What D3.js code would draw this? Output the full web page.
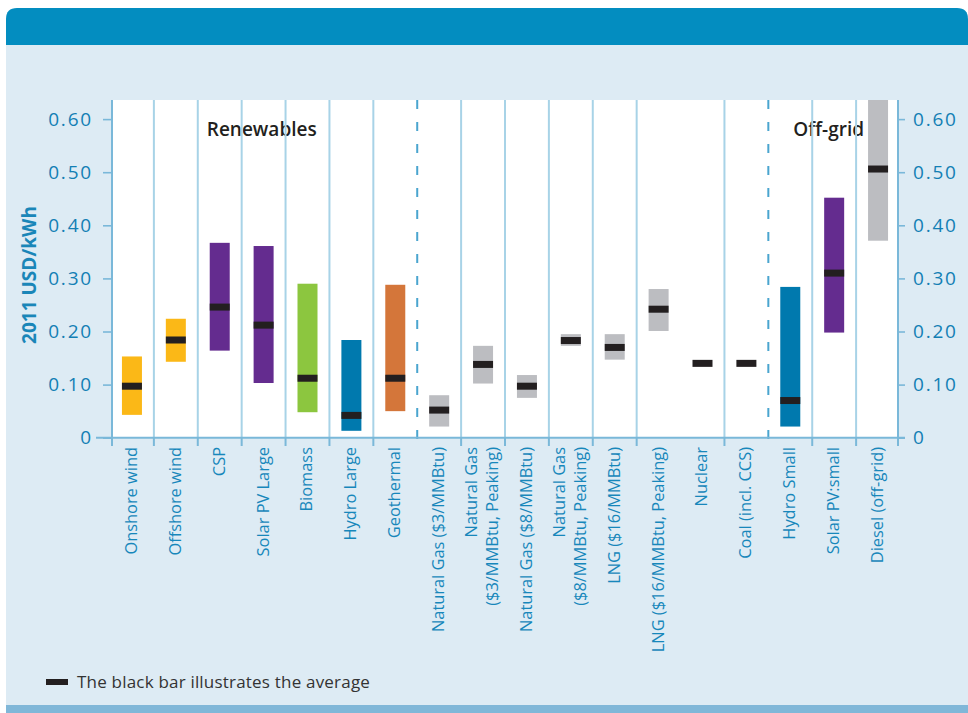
<!DOCTYPE html>
<html>
<head>
<meta charset="utf-8">
<script src="https://cdn.jsdelivr.net/npm/d3@7"></script>
<style>
  html, body { margin: 0; padding: 0; background: #ffffff; }
  svg { display: block; }
</style>
</head>
<body>
<svg id="chart" width="968" height="713"></svg>
<script>
// ---------------- DATA ----------------
const categories = [
  "Onshore wind", "Offshore wind", "CSP", "Solar PV Large", "Biomass", "Hydro Large", "Geothermal",
  "Natural Gas ($3/MMBtu)", "Natural Gas\n($3/MMBtu, Peaking)", "Natural Gas ($8/MMBtu)",
  "Natural Gas\n($8/MMBtu, Peaking)", "LNG ($16/MMBtu)", "LNG ($16/MMBtu, Peaking)",
  "Nuclear", "Coal (incl. CCS)", "Hydro Small", "Solar PV:small", "Diesel (off-grid)"
];
const lowValues  = [0.043, 0.143, 0.164, 0.103, 0.048, 0.013, 0.050, 0.021, 0.102, 0.075, 0.173, 0.147, 0.201, null, null, 0.021, 0.198, 0.371];
const highValues = [0.153, 0.224, 0.367, 0.361, 0.290, 0.184, 0.288, 0.080, 0.173, 0.118, 0.195, 0.195, 0.280, null, null, 0.284, 0.452, 0.640];
const averages   = [0.097, 0.184, 0.246, 0.212, 0.112, 0.042, 0.112, 0.052, 0.138, 0.097, 0.183, 0.170, 0.242, 0.140, 0.140, 0.070, 0.310, 0.506];
const colorKeys  = ["wind", "wind", "solar", "solar", "biomass", "hydro", "geothermal",
  "fossil", "fossil", "fossil", "fossil", "fossil", "fossil", "fossil", "fossil", "hydro", "solar", "fossil"];
const yTicks = [0, 0.1, 0.2, 0.3, 0.4, 0.5, 0.6];
const groupLabels = ["Renewables", "Off-grid"];
const groupLabelAnchor = ["CSP", "Hydro Small"];
const dashedBefore = ["Natural Gas ($3/MMBtu)", "Hydro Small"];
const noDividerBefore = ["Nuclear"];
const yTitle = "2011 USD/kWh";
const legendText = "The black bar illustrates the average";

// ---------------- STYLE ----------------
const palette = {
  wind: "#fbb817", solar: "#642c8f", biomass: "#8cc63f",
  hydro: "#0079ae", geothermal: "#d4763a", fossil: "#bcbdc1"
};
const W = 968, H = 713;
const plotLeft = 112, plotRight = 898, plotTop = 100, plotBottom = 437.7;

const svg = d3.select("#chart");

// background panel
svg.append("rect").attr("x", 6).attr("y", 40).attr("width", W - 6).attr("height", 665).attr("fill", "#ddebf4");
// header with rounded top corners
const hx0 = 6, hx1 = 968, hy0 = 8, hy1 = 45, r = 11;
svg.append("path")
  .attr("d", `M${hx0},${hy1} L${hx0},${hy0 + r} Q${hx0},${hy0} ${hx0 + r},${hy0} L${hx1 - r},${hy0} Q${hx1},${hy0} ${hx1},${hy0 + r} L${hx1},${hy1} Z`)
  .attr("fill", "#038dc0");
// bottom band
svg.append("rect").attr("x", 6).attr("y", 705).attr("width", W - 6).attr("height", 8).attr("fill", "#80b7d8");

// scales
const x = d3.scaleBand().domain(categories).range([110, 900]).padding(0);
const y = d3.scaleLinear().domain([0, 0.636]).range([plotBottom, plotTop]);

// plot background
svg.append("rect").attr("x", plotLeft).attr("y", plotTop)
  .attr("width", plotRight - plotLeft).attr("height", plotBottom - plotTop).attr("fill", "#ffffff");

svg.append("clipPath").attr("id", "plotclip").append("rect")
  .attr("x", plotLeft).attr("y", plotTop).attr("width", plotRight - plotLeft).attr("height", plotBottom - plotTop);

const barW = 20;
const rows = categories.map((c, i) => ({ c, lo: lowValues[i], hi: highValues[i], avg: averages[i], key: colorKeys[i] }));

const barsG = svg.append("g").attr("clip-path", "url(#plotclip)");
barsG.selectAll("rect.range").data(rows.filter(d => d.lo != null)).join("rect")
  .attr("class", "range")
  .attr("x", d => x(d.c) + x.bandwidth() / 2 - barW / 2)
  .attr("y", d => y(d.hi))
  .attr("width", barW)
  .attr("height", d => y(d.lo) - y(d.hi))
  .attr("fill", d => palette[d.key]);
barsG.selectAll("rect.avg").data(rows).join("rect")
  .attr("class", "avg")
  .attr("x", d => x(d.c) + x.bandwidth() / 2 - barW / 2)
  .attr("y", d => y(d.avg) - 3.5)
  .attr("width", barW)
  .attr("height", 7)
  .attr("fill", "#231f20");

// group labels
groupLabels.forEach((g, i) => {
  const xx = x(groupLabelAnchor[i]) + (i === 0 ? 9 : 25);
  svg.append("text").attr("x", xx).attr("y", 136)
    .attr("font-family", "'Open Sans', sans-serif").attr("font-weight", 600)
    .attr("font-size", 19).attr("fill", "#231f20").text(g);
});

// dividers
const dividerCats = categories.slice(1).filter(c => !noDividerBefore.includes(c));
dividerCats.forEach(c => {
  const dashed = dashedBefore.includes(c);
  svg.append("line")
    .attr("x1", x(c)).attr("x2", x(c))
    .attr("y1", plotTop).attr("y2", dashed ? 447 : plotBottom)
    .attr("stroke", dashed ? "#4aa5cf" : "#a8d3e7")
    .attr("stroke-width", 2)
    .attr("stroke-dasharray", dashed ? "9,13" : null);
  if (!dashed) {
    svg.append("line").attr("x1", x(c)).attr("x2", x(c))
      .attr("y1", plotBottom).attr("y2", 446)
      .attr("stroke", "#7ab8d9").attr("stroke-width", 2);
  }
});

const axisColor = "#7ab8d9";
const labelColor = "#1787bb";
const tickFmt = v => v === 0 ? "0" : d3.format(".2f")(v);

// left axis
const yl = svg.append("g").attr("transform", `translate(${plotLeft},0)`)
  .call(d3.axisLeft(y).tickValues(yTicks).tickSize(9).tickPadding(10).tickFormat(tickFmt));
// right axis
const yr = svg.append("g").attr("transform", `translate(${plotRight},0)`)
  .call(d3.axisRight(y).tickValues(yTicks).tickSize(7).tickPadding(8).tickFormat(tickFmt));
[yl, yr].forEach(g => {
  g.select(".domain").remove();
  g.selectAll(".tick line").attr("stroke", axisColor).attr("stroke-width", 1.6);
  g.selectAll(".tick text").attr("fill", "#137fb4")
    .attr("font-family", "'Open Sans', sans-serif").attr("font-weight", 400)
    .attr("font-size", 19).attr("letter-spacing", 1.8);
});

// axis lines
svg.append("line").attr("x1", plotLeft).attr("x2", plotLeft).attr("y1", plotTop).attr("y2", 446)
  .attr("stroke", axisColor).attr("stroke-width", 2);
svg.append("line").attr("x1", plotRight).attr("x2", plotRight).attr("y1", plotTop).attr("y2", 446)
  .attr("stroke", axisColor).attr("stroke-width", 2);
svg.append("line").attr("x1", 96).attr("x2", 905).attr("y1", plotBottom).attr("y2", plotBottom)
  .attr("stroke", axisColor).attr("stroke-width", 2);

// x labels (rotated)
const xlab = svg.append("g");
categories.forEach(c => {
  const lines = c.split("\n");
  const cx = x(c) + x.bandwidth() / 2 - 1;
  lines.forEach((ln, j) => {
    const off = lines.length === 1 ? 0 : (j === 0 ? -11 : 10);
    xlab.append("text")
      .attr("transform", `translate(${cx + off},447) rotate(-90)`)
      .attr("text-anchor", "end")
      .attr("dy", "0.36em")
      .attr("font-family", "'Open Sans', sans-serif")
      .attr("font-size", 16.4)
      .attr("fill", labelColor)
      .text(ln);
  });
});

// y title
svg.append("text")
  .attr("transform", "translate(29,275) rotate(-90)")
  .attr("text-anchor", "middle").attr("dy", "0.36em")
  .attr("font-family", "'Open Sans', sans-serif").attr("font-weight", 700)
  .attr("font-size", 19).attr("fill", "#1a86b8")
  .text(yTitle);

// legend
svg.append("rect").attr("x", 46).attr("y", 679).attr("width", 22).attr("height", 6).attr("fill", "#231f20");
svg.append("text").attr("x", 77).attr("y", 688)
  .attr("font-family", "'Open Sans', sans-serif").attr("font-size", 17)
  .attr("letter-spacing", 0.2)
  .attr("fill", "#333333").text(legendText);
</script>
</body>
</html>
